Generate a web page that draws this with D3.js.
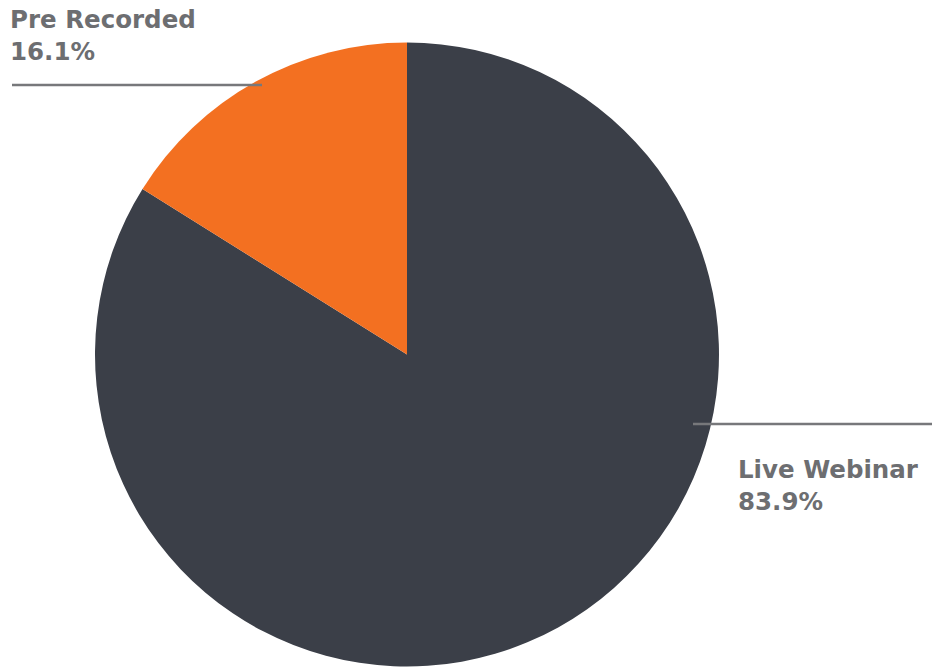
<!DOCTYPE html>
<html>
<head>
  <meta charset="UTF-8">
  <title>Live Webinar vs Pre Recorded</title>
  <script src="https://d3js.org/d3.v7.min.js"></script>
  <style>
    body { margin: 0; background: #fff; }
    .label {
      font-family: "DejaVu Sans", sans-serif;
      font-weight: bold;
      font-size: 24.5px;
      fill: #6d6e71;
    }
    .leader {
      stroke: #77787b;
      stroke-width: 2.5;
    }
  </style>
</head>
<body>
  <svg width="932" height="668"></svg>

  <script>
    const categories = ["Live Webinar", "Pre Recorded"];
    const shares = [83.9, 16.1];
    const colors = ["#3b3f48", "#f37021"];

    const data = categories.map((c, i) => ({ name: c, value: shares[i] }));

    const svg = d3.select("svg");
    const cx = 407, cy = 354.5, radius = 312;

    const color = d3.scaleOrdinal().domain(categories).range(colors);

    // live webinar starts at 12 o'clock going clockwise, pre recorded closes the circle
    const pie = d3.pie().value(d => d.value).sort(null);
    const arc = d3.arc().innerRadius(0).outerRadius(radius);

    const g = svg.append("g").attr("transform", `translate(${cx},${cy})`);

    g.selectAll("path")
      .data(pie(data))
      .enter()
      .append("path")
      .attr("d", arc)
      .attr("fill", d => color(d.data.name));

    // labels with leader lines
    const labelPos = {
      "Pre Recorded": { x: 10, y: 28, line: [12, 262, 85] },
      "Live Webinar": { x: 738, y: 478, line: [693, 932, 424] }
    };

    data.forEach(d => {
      const p = labelPos[d.name];
      svg.append("line")
        .attr("class", "leader")
        .attr("x1", p.line[0]).attr("x2", p.line[1])
        .attr("y1", p.line[2]).attr("y2", p.line[2]);
      svg.append("text")
        .attr("class", "label")
        .attr("x", p.x).attr("y", p.y)
        .text(d.name);
      svg.append("text")
        .attr("class", "label")
        .attr("x", p.x).attr("y", p.y + 32)
        .text(d.value.toFixed(1) + "%");
    });
  </script>
</body>
</html>
